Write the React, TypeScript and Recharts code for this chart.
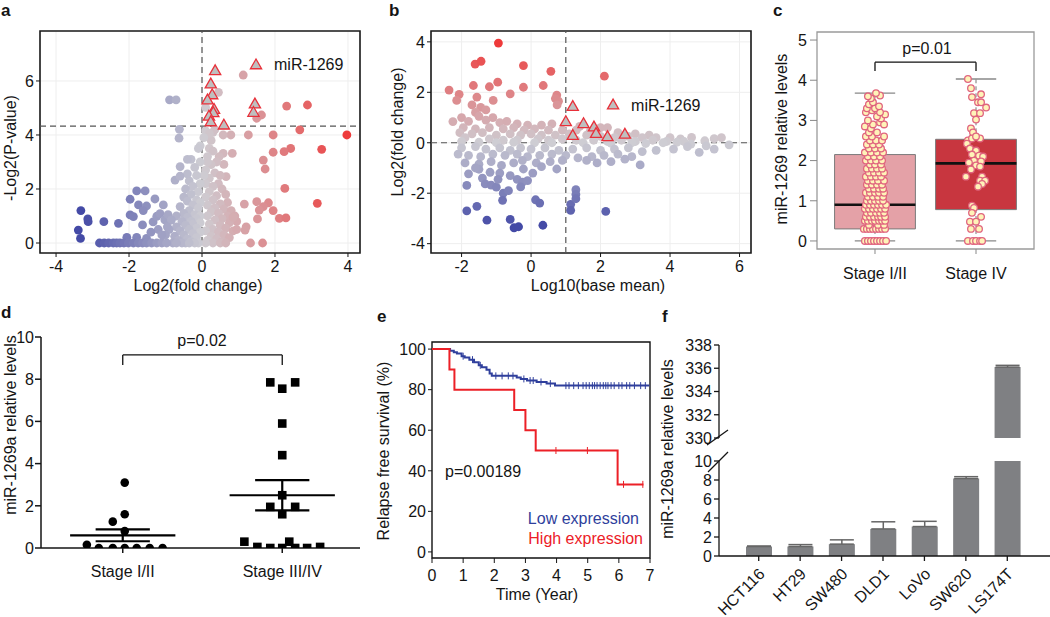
import React from 'react';
import {
  ScatterChart, Scatter, XAxis, YAxis, CartesianGrid, ReferenceLine, ReferenceArea, ReferenceDot,
  ComposedChart, Line, BarChart, Bar, ErrorBar,
} from 'recharts';

const FONT = '"Liberation Sans", Arial, Helvetica, sans-serif';
const INK = '#151515';

// ---------------- panel a: volcano plot (log2 fold change, -log2 p) ----------------
const volcanoPoints: [number, number][] = [
  [1.13,6.22],[0.45,5.58],[2.32,5.07],[2.89,5.11],[1.50,4.62],[1.63,4.74],[2.68,4.19],[3.97,4.0],[1.95,4.0],[1.27,4.0],
  [0.79,4.0],[0.58,4.0],[3.28,3.47],[2.43,3.5],[2.25,3.38],[1.95,3.36],[1.68,3.07],[1.73,2.74],[2.27,2.02],[3.16,1.47],
  [1.50,1.53],[1.82,1.49],[1.68,1.35],[1.57,1.22],[1.95,1.2],[2.12,0.91],[2.30,0.93],[1.52,0.89],[1.16,1.44],[1.21,0.6],
  [1.18,0.48],[1.33,0],[1.66,0],[0.83,3.32],[0.58,3.32],[0.60,2.91],[0.66,2.46],[0.47,3.2],[0.3,4.1],[0.35,4.2],
  [0.25,3.8],[0.2,3.5],[0.3,3.4],[0.15,3.2],[0.4,3.0],[0.25,2.9],[0.1,2.7],[0.35,2.6],[0.5,2.5],[0.2,2.4],
  [0.45,2.2],[0.1,2.2],[0.3,2.1],[0.55,2.0],[0.2,1.9],[0.65,1.8],[0.4,1.75],[0.1,1.7],[0.3,1.6],[0.7,1.5],
  [0.5,1.45],[0.15,1.4],[0.35,1.3],[0.6,1.25],[0.8,1.2],[0.25,1.15],[0.45,1.1],[0.9,1.0],[0.7,1.0],[0.15,1.0],
  [0.55,0.9],[0.35,0.85],[0.95,0.8],[0.75,0.75],[0.2,0.7],[0.5,0.65],[0.65,0.55],[0.3,0.5],[0.85,0.45],[0.1,0.45],
  [0.45,0.4],[0.6,0.3],[0.25,0.25],[0.75,0.2],[0.4,0.15],[0.55,0.05],[0.15,0.1],[0.3,0.0],[0.5,0.0],[0.65,0.0],
  [0.1,0.0],[0.85,0.95],[0.95,0.5],[0.1,4.15],[-0.05,3.6],[0.1,5.02],[0.2,4.05],[0.05,3.9],[0.15,3.0],[0.05,2.5],
  [-0.1,3.5],[-0.3,3.1],[-0.05,3.0],[-0.2,2.8],[-0.15,2.5],[-0.35,2.3],[-0.05,2.2],[-0.25,2.1],[-0.45,2.0],[-0.1,1.9],
  [-0.3,1.8],[-0.5,1.7],[-0.15,1.6],[-0.4,1.55],[-0.05,1.5],[-0.25,1.4],[-0.6,1.35],[-0.1,1.3],[-0.35,1.2],[-0.5,1.1],
  [-0.2,1.05],[-0.05,1.0],[-0.7,1.0],[-0.4,0.95],[-0.15,0.9],[-0.3,0.8],[-0.55,0.8],[-0.85,0.85],[-0.05,0.75],[-0.25,0.7],
  [-0.45,0.65],[-0.7,0.6],[-0.15,0.55],[-0.35,0.5],[-0.6,0.45],[-0.9,0.5],[-0.05,0.4],[-0.25,0.35],[-0.5,0.3],[-0.75,0.25],
  [-1.0,0.3],[-0.15,0.2],[-0.4,0.15],[-0.65,0.1],[-0.3,0.05],[-0.1,0.0],[-0.2,0.0],[-0.45,0.0],[-0.55,0.0],[-0.8,0.0],
  [-0.7,0.0],[-0.35,0.0],[-0.89,5.3],[-0.71,5.3],[-0.62,4.21],[-0.63,3.88],[-0.40,3.1],[-0.60,2.83],[-0.40,2.56],[-0.74,2.33],
  [-0.6,2.48],[-1.79,1.93],[-1.56,1.93],[-1.97,1.62],[-1.29,1.63],[-1.74,1.41],[-1.52,1.37],[-1.06,1.41],[-1.61,1.2],[-3.32,1.2],
  [-3.13,0.89],[-3.12,0.79],[-2.69,0.79],[-2.29,0.73],[-3.39,0.48],[-3.33,0.17],[-1.97,1.04],[-1.88,0.98],[-1.63,0.67],[-1.34,0.78],
  [-1.24,0.99],[-1.15,1.09],[-1.02,0.86],[-0.93,1.05],[-0.84,0.86],[-2.06,0.21],[-1.79,0.21],[-1.52,0.17],[-1.2,0.5],[-1.1,0.3],
  [-0.95,0.6],[-1.4,0.4],[-2.81,0],[-2.68,0],[-2.56,0],[-2.43,0],[-2.34,0],[-2.25,0],[-2.14,0],[-2.02,0],
  [-1.88,0],[-1.75,0],[-1.63,0],[-1.52,0],[-1.38,0],[-1.24,0],[-1.10,0],[-0.97,0],
];
const volcanoHighlight: [number, number][] = [
  [0.36,6.38],[0.24,5.89],[0.28,5.49],[0.15,5.3],[0.33,4.95],[0.31,4.83],[0.19,4.7],[0.24,4.49],[0.60,4.37],[1.45,5.15],[1.41,4.84],
];
const volcanoXTicks = [-4, -2, 0, 2, 4];
const volcanoYTicks = [0, 2, 4, 6];
const volcanoPCut = 4.33;

// ---------------- panel b: MA plot (log10 base mean, log2 fold change) ----------------
const maPoints: [number, number][] = [
  [-0.94,3.95],[-1.61,3.12],[-1.44,3.23],[-0.22,3.06],[0.57,2.83],[2.11,2.64],[-1.66,2.27],[-0.96,2.4],[-0.22,2.2],[0.35,2.27],
  [-2.36,2.09],[-2.07,1.92],[-1.2,2.22],[-0.60,1.94],[0.74,1.89],[0.79,1.65],[-2.14,1.68],[-1.56,1.81],[-1.09,1.68],[-1.7,1.5],
  [-1.45,1.4],[-1.3,1.3],[-1.6,1.2],[0.7,1.75],[0.75,1.5],[-2.0,1.0],[-1.5,1.05],[-1.1,1.0],[-2.25,0.84],[-1.8,0.85],
  [-1.3,0.9],[-0.9,0.8],[-0.7,0.85],[-0.4,0.75],[-0.1,0.7],[0.3,0.7],[0.6,0.75],[1.4,0.65],[2.0,0.6],[2.2,0.6],
  [-1.95,0.6],[-1.6,0.55],[-1.2,0.6],[-0.8,0.55],[-0.5,0.6],[-0.2,0.5],[0.1,0.55],[0.5,0.5],[0.9,0.5],[1.3,0.5],
  [1.7,0.45],[2.5,0.4],[3.0,0.35],[3.4,0.3],[-2.05,0.4],[-1.7,0.35],[-1.4,0.4],[-1.0,0.3],[-0.6,0.35],[-0.3,0.3],
  [0.0,0.35],[0.3,0.3],[0.7,0.3],[1.1,0.35],[1.6,0.3],[2.0,0.25],[2.4,0.2],[2.8,0.25],[3.2,0.2],[3.6,0.2],
  [4.0,0.2],[4.3,0.15],[4.62,0.21],[-1.9,0.2],[-1.2,0.15],[-0.8,0.1],[-0.4,0.1],[0.2,0.15],[0.5,0.1],[0.9,0.15],
  [1.3,0.1],[1.8,0.1],[2.2,0.05],[2.6,0.1],[3.0,0.05],[3.5,0.1],[3.9,0.05],[4.4,0.05],[5.0,0.08],[5.27,0.16],
  [5.48,0.2],[-2.0,0.05],[-1.5,0.02],[-1.0,0.0],[-0.5,0.02],[0.1,0.0],[0.6,0.0],[1.5,0.0],[2.3,-0.02],[2.9,0.0],
  [3.3,-0.03],[3.8,0.0],[4.2,0.02],[4.6,-0.05],[5.04,-0.12],[5.7,-0.08],[4.84,-0.38],[5.27,-0.25],
  [-2.0,-0.2],[-1.6,-0.15],[-1.3,-0.25],[-0.9,-0.2],[-0.6,-0.3],[-0.3,-0.2],[0.0,-0.25],[0.4,-0.2],[0.8,-0.3],[1.2,-0.25],
  [1.6,-0.2],[2.0,-0.3],[2.4,-0.25],[2.8,-0.2],[3.2,-0.35],[3.6,-0.3],[4.1,-0.25],[4.5,-0.15],[-2.1,-0.45],[-1.8,-0.5],
  [-1.45,-0.55],[-1.1,-0.45],[-0.75,-0.5],[-0.4,-0.45],[-0.1,-0.55],[0.25,-0.5],[0.6,-0.45],[1.0,-0.5],[1.35,-0.6],[1.75,-0.55],
  [2.1,-0.5],[2.5,-0.45],[2.9,-0.55],[3.14,-0.88],[-1.9,-0.8],[-1.5,-0.85],[-1.15,-0.75],[-0.85,-0.9],[-0.5,-0.8],[-0.25,-0.7],
  [0.15,-0.8],[0.55,-0.75],[0.74,-1.04],[-0.22,-1.04],[-1.8,-1.23],[-1.18,-1.17],[-1.5,-1.05],[-0.9,-1.2],[-0.6,-1.3],[-1.4,-1.4],
  [-0.4,-1.45],[-0.25,-1.56],[-0.1,-1.5],[-1.85,-1.69],[-1.32,-1.63],[-1.15,-1.68],[-1.0,-1.76],[-0.8,-2.0],[-0.65,-1.9],[-0.82,-2.28],
  [-0.3,-1.75],[0.13,-2.26],[0.25,-2.39],[1.14,-2.44],[1.14,-2.68],[1.29,-1.86],[1.29,-2.05],[1.29,-2.22],[2.15,-2.72],[-1.85,-2.7],
  [-1.56,-2.52],[-1.27,-3.07],[-0.6,-3.04],[-0.49,-3.37],[-0.36,-3.33],[0.34,-3.27],[-0.95,-1.45],[-1.6,-1.0],[0.05,-1.2],[0.3,-0.95],
  [1.6,-0.7],[1.9,-0.8],[2.3,-0.75],[2.7,-0.65],[0.9,-0.7],
];
const maHighlight: [number, number][] = [
  [1.2,1.44],[1.0,0.84],[1.51,0.76],[1.81,0.63],[1.2,0.29],[1.87,0.37],[2.2,0.24],[2.7,0.34],
];
const maXTicks = [-2, 0, 2, 4, 6];
const maYTicks = [-4, -2, 0, 2, 4];
const maMeanCut = 1;

// ---------------- panel c: box plot with jittered points ----------------
const cCategories = ['Stage I/II', 'Stage IV'];
// [jitter offset from the category, level]
const cStage12: [number, number][] = [
  [-0.10,0],[-0.07,0],[-0.04,0],[-0.01,0],[0.02,0],[0.05,0],[0.08,0],[0.11,0],
  [-0.11,0.3],[-0.08,0.3],[-0.05,0.3],[-0.02,0.3],[0.01,0.3],[0.04,0.3],[0.07,0.3],[0.10,0.3],
  [-0.06,0.4],[0.03,0.4],[0.09,0.4],
  [-0.10,0.5],[-0.07,0.5],[-0.03,0.5],[0.0,0.5],[0.04,0.5],[0.07,0.5],[0.10,0.5],
  [-0.09,0.6],[-0.05,0.6],[-0.01,0.6],[0.03,0.6],[0.06,0.6],[0.10,0.6],
  [-0.08,0.7],[-0.04,0.7],[0.01,0.7],[0.05,0.7],[0.09,0.7],
  [-0.10,0.8],[-0.06,0.8],[-0.02,0.8],[0.02,0.8],[0.06,0.8],[0.10,0.8],
  [-0.09,0.9],[-0.05,0.9],[-0.01,0.9],[0.03,0.9],[0.07,0.9],[0.11,0.9],
  [-0.08,1.0],[-0.04,1.0],[0.0,1.0],[0.04,1.0],[0.08,1.0],
  [-0.07,1.1],[-0.02,1.1],[0.03,1.1],[0.08,1.1],
  [-0.09,1.2],[-0.05,1.2],[0.0,1.2],[0.04,1.2],[0.09,1.2],
  [-0.06,1.3],[-0.01,1.3],[0.04,1.3],[0.08,1.3],
  [-0.08,1.4],[-0.03,1.4],[0.02,1.4],[0.07,1.4],
  [-0.07,1.5],[-0.02,1.5],[0.03,1.5],[0.09,1.5],
  [-0.09,1.6],[-0.04,1.6],[0.01,1.6],[0.06,1.6],
  [-0.06,1.7],[-0.01,1.7],[0.04,1.7],[0.09,1.7],
  [-0.08,1.8],[-0.03,1.8],[0.02,1.8],[0.07,1.8],
  [-0.05,1.9],[0.0,1.9],[0.06,1.9],
  [-0.09,2.0],[-0.04,2.0],[0.01,2.0],[0.07,2.0],
  [-0.07,2.1],[-0.01,2.1],[0.05,2.1],
  [-0.10,2.2],[-0.04,2.2],[0.02,2.2],[0.08,2.2],
  [-0.06,2.3],[0.0,2.3],[0.06,2.3],
  [-0.08,2.4],[-0.02,2.4],[0.04,2.4],
  [-0.05,2.5],[0.01,2.5],[0.07,2.5],
  [-0.09,2.6],[-0.03,2.6],[0.09,2.6],
  [-0.06,2.7],[0.02,2.7],
  [-0.10,2.85],[-0.04,2.8],
  [0.05,2.95],[0.09,2.9],[-0.02,2.9],
  [-0.07,3.0],[0.06,3.05],
  [0.02,3.1],[0.10,3.15],
  [-0.09,3.2],[-0.03,3.25],[0.05,3.2],
  [-0.08,3.3],[0.0,3.3],[0.04,3.35],
  [-0.06,3.4],[-0.02,3.45],
  [-0.04,3.55],
  [-0.07,3.6],[0.05,3.62],
  [0.01,3.68],
];
const cStage4: [number, number][] = [
  [-0.08,4.03],[-0.05,3.8],[0.05,3.65],[-0.04,3.58],[0.02,3.45],[0.05,3.45],[0.1,3.32],[-0.02,3.18],[0.04,3.18],[0.0,3.02],
  [-0.05,2.8],[-0.03,2.7],[-0.08,2.5],[-0.04,2.55],[0.04,2.55],[0.0,2.6],[-0.09,2.42],[-0.06,2.3],[0.0,2.25],[-0.04,2.15],
  [0.03,2.12],[0.07,2.1],[-0.02,2.0],[0.05,1.98],[-0.07,1.95],[0.0,1.88],[0.04,1.85],[-0.05,1.78],[-0.1,1.6],[0.06,1.6],
  [0.04,1.5],[0.09,1.5],[0.06,1.42],[0.02,1.35],[-0.04,0.88],[-0.02,0.82],[-0.04,0.7],[0.05,0.6],[-0.06,0.48],[0.0,0.48],
  [-0.05,0.3],[0.03,0.3],[-0.08,0],[-0.03,0],[0.0,0],[0.04,0],[0.06,0],
];
// min, q1, median, q3, max
const cBoxStats = [
  [0, 0.3, 0.9, 2.15, 3.68],
  [0, 0.78, 1.93, 2.53, 4.03],
];
const cBoxColors = ['#e4a1a7', '#c8363f'];
const cYTicks = [0, 1, 2, 3, 4, 5];

// ---------------- panel d: dot plot with mean +/- SEM ----------------
const dCategories = ['Stage I/II', 'Stage III/IV'];
const dStage12: [number, number][] = [
  [-0.225,0.15],[-0.15,0],[-0.0625,0],[0.0125,0],[0.0875,0],[0.169,0],[0.25,0],[-0.0625,1.25],[0.0125,1.6],[0.0125,3.1],[0.0125,0.8],
];
const dStage34: [number, number][] = [
  [-0.2375,0.3],[-0.156,0.05],[-0.075,0],[0,0],[0.044,0.3],[0.081,0],[0.156,0],[0.2375,0.05],
  [-0.075,7.85],[0,7.55],[0.081,7.85],[0,5.9],[0,4.4],[0,2.5],[-0.075,1.95],[0.081,1.95],[0,1.6],
];
const dMeans = [0.6, 2.5];
const dSems = [0.28, 0.72];
const dYTicks = [0, 2, 4, 6, 8, 10];

// ---------------- panel e: Kaplan-Meier ----------------
const lowTimes = [0, 0.58, 0.7, 0.8, 0.95, 1.05, 1.2, 1.35, 1.5, 1.6, 1.75, 1.85, 1.92, 2.72, 2.85, 3.05, 3.36, 3.68, 3.95, 6.98];
const lowSurv = [100, 99.2, 98.5, 97.8, 96.5, 95.8, 94.8, 93.5, 92, 91, 89.8, 88, 86.8, 86, 85.3, 84.5, 83.8, 83, 82, 82];
const lowCensor: [number, number][] = [
  [1.0,96.5],[1.3,94.8],[1.55,92],[2.05,86.8],[2.25,86.8],[2.45,86.8],[2.6,86.8],[2.95,85.3],[3.15,84.5],[3.25,84.5],
  [3.5,83.8],[3.8,83],[4.3,82],[4.4,82],[4.55,82],[4.7,82],[4.85,82],[4.95,82],[5.05,82],[5.15,82],[5.22,82],[5.3,82],
  [5.4,82],[5.5,82],[5.58,82],[5.65,82],[5.75,82],[5.85,82],[6.0,82],[6.1,82],[6.25,82],[6.35,82],[6.5,82],[6.7,82],[6.85,82],
];
const highTimes = [0, 0.56, 0.72, 2.64, 3.0, 3.33, 5.96, 6.79];
const highSurv = [100, 90, 80, 70, 60, 50, 33.3, 33.3];
const highCensor: [number, number][] = [[3.98,50],[4.99,50],[6.15,33.3],[6.77,33.3]];
const eXTicks = [0, 1, 2, 3, 4, 5, 6, 7];
const eYTicks = [0, 20, 40, 60, 80, 100];
const LOW_COLOR = '#2f3f9c';
const HIGH_COLOR = '#ec2027';

// ---------------- panel f: bars with broken axis ----------------
const fCellLines = ['HCT116', 'HT29', 'SW480', 'DLD1', 'LoVo', 'SW620', 'LS174T'];
const fMeans = [1.0, 1.0, 1.25, 2.85, 3.1, 8.15, 336.1];
const fErrors = [0.05, 0.2, 0.45, 0.75, 0.55, 0.2, 0.15];
const fLowTicks = [0, 2, 4, 6, 8, 10];
const fHighTicks = [330, 332, 334, 336, 338];

// ---------------- helpers ----------------
const mix = (a: number[], b: number[], t: number) =>
  `rgb(${a.map((v, i) => Math.round(v + (b[i] - v) * t)).join(',')})`;
const MID = [206, 205, 211], LO = [68, 74, 166], HI = [238, 58, 58];
const foldColor = (v: number, hiMax: number) =>
  v < 0 ? mix(MID, LO, Math.min(1, -v / 3.3)) : mix(MID, HI, Math.min(1, v / hiMax));

const TS = 16;

// custom tick renderers so the font size is applied exactly
const XTick = (fmt?: (v: any) => string) => (p: any) => (
  <text x={p.x} y={p.y} dy="0.72em" textAnchor="middle" fontSize={TS} fill={INK} fontFamily={FONT}>
    {fmt ? fmt(p.payload.value) : p.payload.value}
  </text>
);
const YTick = (p: any) => (
  <text x={p.x} y={p.y} dy="0.36em" textAnchor="end" fontSize={TS} fill={INK} fontFamily={FONT}>
    {p.payload.value}
  </text>
);

const Triangle = (p: any) => {
  const { cx, cy } = p;
  if (cx == null || cy == null) return <g />;
  return (
    <polygon
      points={`${cx},${cy - 5.8} ${cx - 5.6},${cy + 4} ${cx + 5.6},${cy + 4}`}
      fill="#bfbfbf" stroke="#e8303a" strokeWidth={1.3}
    />
  );
};

const makeFoldDot = (key: 'x' | 'y', hiMax: number) => (p: any) => (
  <circle cx={p.cx} cy={p.cy} r={4.4} fill={foldColor(p.payload[key], hiMax)} />
);

// ---------------- panels ----------------
const A_X: [number, number] = [-4.44, 4.33];
const A_Y: [number, number] = [-0.37, 7.85];

function PanelA() {
  const pts = volcanoPoints.map(([x, y]) => ({ x, y }));
  const tri = volcanoHighlight.map(([x, y]) => ({ x, y }));
  return (
    <ScatterChart width={365} height={300} margin={{ top: 31, right: 5, bottom: 0, left: 0 }}>
      <CartesianGrid stroke="#eeeeee" />
      <XAxis type="number" dataKey="x" domain={A_X} ticks={volcanoXTicks} allowDataOverflow height={47} interval={0}
        axisLine={false} tickSize={4} tickMargin={3} tickLine={{ stroke: INK }} tick={XTick()} />
      <YAxis type="number" dataKey="y" domain={A_Y} ticks={volcanoYTicks} allowDataOverflow width={40} interval={0}
        axisLine={false} tickSize={4} tickMargin={2} tickLine={{ stroke: INK }} tick={YTick} />
      <ReferenceArea x1={A_X[0]} x2={A_X[1]} y1={A_Y[0]} y2={A_Y[1]} fill="none" fillOpacity={0} stroke="#1a1a1a" strokeWidth={1.6} />
      <ReferenceLine x={0} stroke="#555" strokeDasharray="6 4" strokeWidth={1.2} />
      <ReferenceLine y={volcanoPCut} stroke="#555" strokeDasharray="6 4" strokeWidth={1.2} />
      <Scatter data={pts} shape={makeFoldDot('x', 4)} isAnimationActive={false} />
      <Scatter data={tri} shape={Triangle} isAnimationActive={false} />
      <ReferenceDot x={1.48} y={6.6} shape={Triangle}
        label={{ value: 'miR-1269', position: 'right', offset: 8, fill: INK, fontSize: 16, fontFamily: FONT }} />
    </ScatterChart>
  );
}

const B_X: [number, number] = [-2.88, 6.33];
const B_Y: [number, number] = [-4.37, 4.43];

function PanelB() {
  const pts = maPoints.map(([x, y]) => ({ x, y }));
  const tri = maHighlight.map(([x, y]) => ({ x, y }));
  return (
    <ScatterChart width={365} height={300} margin={{ top: 31, right: 5, bottom: 0, left: 0 }}>
      <CartesianGrid stroke="#eeeeee" />
      <XAxis type="number" dataKey="x" domain={B_X} ticks={maXTicks} allowDataOverflow height={47} interval={0}
        axisLine={false} tickSize={4} tickMargin={3} tickLine={{ stroke: INK }} tick={XTick()} />
      <YAxis type="number" dataKey="y" domain={B_Y} ticks={maYTicks} allowDataOverflow width={40} interval={0}
        axisLine={false} tickSize={4} tickMargin={2} tickLine={{ stroke: INK }} tick={YTick} />
      <ReferenceArea x1={B_X[0]} x2={B_X[1]} y1={B_Y[0]} y2={B_Y[1]} fill="none" fillOpacity={0} stroke="#1a1a1a" strokeWidth={1.6} />
      <ReferenceLine x={maMeanCut} stroke="#555" strokeDasharray="6 4" strokeWidth={1.2} />
      <ReferenceLine y={0} stroke="#555" strokeDasharray="6 4" strokeWidth={1.2} />
      <Scatter data={pts} shape={makeFoldDot('y', 3.9)} isAnimationActive={false} />
      <Scatter data={tri} shape={Triangle} isAnimationActive={false} />
      <ReferenceDot x={2.36} y={1.5} shape={Triangle}
        label={{ value: 'miR-1269', position: 'right', offset: 8, fill: INK, fontSize: 16, fontFamily: FONT }} />
    </ScatterChart>
  );
}

const C_X: [number, number] = [0.426, 2.574];
const C_Y: [number, number] = [-0.2, 5.2];

const JitterDot = (p: any) => (
  <circle cx={p.cx} cy={p.cy} r={3.3} fill="#fff3b8" stroke="#e0657f" strokeWidth={1.3} />
);

function PanelC() {
  const groups = [cStage12, cStage4];
  return (
    <ScatterChart width={273} height={300} margin={{ top: 32, right: 16, bottom: 0, left: 0 }}>
      <XAxis type="number" dataKey="x" domain={C_X} ticks={[1, 2]} allowDataOverflow height={51} interval={0}
        axisLine={false} tickSize={5} tickMargin={13}
        tickLine={{ stroke: '#888' }} tick={XTick((v: number) => cCategories[v - 1])} />
      <YAxis type="number" dataKey="y" domain={C_Y} ticks={cYTicks} allowDataOverflow width={40} interval={0}
        axisLine={false} tickSize={7} tickMargin={3} tickLine={{ stroke: '#888' }} tick={YTick} />
      <ReferenceArea x1={C_X[0]} x2={C_X[1]} y1={C_Y[0]} y2={C_Y[1]} fill="none" fillOpacity={0} stroke="#9a9a9a" strokeWidth={1.3} />
      {cBoxStats.map(([mn, q1, md, q3, mx], i) => {
        const c = i + 1;
        return (
          <React.Fragment key={i}>
            <ReferenceLine segment={[{ x: c, y: q3 }, { x: c, y: mx }]} stroke="#777" strokeDasharray="4 3" />
            <ReferenceLine segment={[{ x: c, y: mn }, { x: c, y: q1 }]} stroke="#777" strokeDasharray="4 3" />
            <ReferenceLine segment={[{ x: c - 0.2, y: mx }, { x: c + 0.2, y: mx }]} stroke="#888" strokeWidth={1.3} />
            <ReferenceLine segment={[{ x: c - 0.2, y: mn }, { x: c + 0.2, y: mn }]} stroke="#888" strokeWidth={1.3} />
            <ReferenceArea x1={c - 0.4} x2={c + 0.4} y1={q1} y2={q3} fill={cBoxColors[i]} fillOpacity={1} stroke="#7a7a7a" strokeWidth={1} />
            <ReferenceLine segment={[{ x: c - 0.4, y: md }, { x: c + 0.4, y: md }]} stroke="#111" strokeWidth={2.6} />
          </React.Fragment>
        );
      })}
      {groups.map((g, i) => (
        <Scatter key={i} data={g.map(([o, v]) => ({ x: i + 1 + o, y: v }))} shape={JitterDot} isAnimationActive={false} />
      ))}
      <ReferenceLine segment={[{ x: 1, y: 4.45 }, { x: 2, y: 4.45 }]} stroke="#111" strokeWidth={1.3} />
      <ReferenceLine segment={[{ x: 1, y: 4.45 }, { x: 1, y: 4.23 }]} stroke="#111" strokeWidth={1.3} />
      <ReferenceLine segment={[{ x: 2, y: 4.45 }, { x: 2, y: 4.23 }]} stroke="#111" strokeWidth={1.3} />
    </ScatterChart>
  );
}

const D_X: [number, number] = [0.4875, 2.4875];

const BlackCircle = (p: any) => <circle cx={p.cx} cy={p.cy} r={4.3} fill="#000" />;
const BlackSquare = (p: any) => <rect x={p.cx - 4.3} y={p.cy - 4.3} width={8.6} height={8.6} fill="#000" />;

function PanelD() {
  const groups = [dStage12, dStage34];
  return (
    <ScatterChart width={365} height={317} margin={{ top: 37, right: 5, bottom: 0, left: 1 }}>
      <XAxis type="number" dataKey="x" domain={D_X} ticks={[1, 2]} allowDataOverflow height={69} interval={0}
        axisLine={{ stroke: INK, strokeWidth: 1.5 }}
        tickSize={5} tickMargin={12} tickLine={{ stroke: INK, strokeWidth: 1.5 }} tick={XTick((v: number) => dCategories[v - 1])} />
      <YAxis type="number" dataKey="y" domain={[0, 10]} ticks={dYTicks} allowDataOverflow width={40} interval={0}
        axisLine={{ stroke: INK, strokeWidth: 1.5 }} tickSize={6} tickMargin={1}
        tickLine={{ stroke: INK, strokeWidth: 1.5 }} tick={YTick} />
      <Scatter data={groups[0].map(([o, v]) => ({ x: 1 + o, y: v }))} shape={BlackCircle} isAnimationActive={false} />
      <Scatter data={groups[1].map(([o, v]) => ({ x: 2 + o, y: v }))} shape={BlackSquare} isAnimationActive={false} />
      {dMeans.map((m, i) => {
        const c = i + 1, s = dSems[i];
        return (
          <React.Fragment key={i}>
            <ReferenceLine segment={[{ x: c - 0.33, y: m }, { x: c + 0.33, y: m }]} stroke="#000" strokeWidth={2.2} />
            <ReferenceLine segment={[{ x: c - 0.17, y: m + s }, { x: c + 0.17, y: m + s }]} stroke="#000" strokeWidth={2.2} />
            <ReferenceLine segment={[{ x: c - 0.17, y: m - s }, { x: c + 0.17, y: m - s }]} stroke="#000" strokeWidth={2.2} />
            <ReferenceLine segment={[{ x: c, y: m - s }, { x: c, y: m + s }]} stroke="#000" strokeWidth={2.2} />
          </React.Fragment>
        );
      })}
      <ReferenceLine segment={[{ x: 1, y: 9.15 }, { x: 2, y: 9.15 }]} stroke="#111" strokeWidth={1.3} />
      <ReferenceLine segment={[{ x: 1, y: 9.15 }, { x: 1, y: 8.67 }]} stroke="#111" strokeWidth={1.3} />
      <ReferenceLine segment={[{ x: 2, y: 9.15 }, { x: 2, y: 8.67 }]} stroke="#111" strokeWidth={1.3} />
    </ScatterChart>
  );
}

const E_Y: [number, number] = [-3, 103.5];

const censorShape = (color: string) => (p: any) => (
  <line x1={p.cx} x2={p.cx} y1={p.cy - 3.5} y2={p.cy + 3.5} stroke={color} strokeWidth={1} />
);

function PanelE() {
  const low = lowTimes.map((t, i) => ({ t, s: lowSurv[i] }));
  const high = highTimes.map((t, i) => ({ t, s: highSurv[i] }));
  return (
    <ComposedChart width={263} height={317} margin={{ top: 42, right: 5, bottom: 0, left: 0 }}>
      <XAxis type="number" dataKey="t" domain={[0, 7]} ticks={eXTicks} allowDataOverflow height={59} interval={0}
        axisLine={false} tickSize={5} tickMargin={6} tickLine={{ stroke: INK }} tick={XTick()} />
      <YAxis type="number" dataKey="s" domain={E_Y} ticks={eYTicks} allowDataOverflow width={40} interval={0}
        axisLine={false} tickSize={4} tickMargin={2} tickLine={{ stroke: INK }} tick={YTick} />
      <ReferenceArea x1={0} x2={7} y1={E_Y[0]} y2={E_Y[1]} fill="none" fillOpacity={0} stroke="#111" strokeWidth={1.4} />
      <Line data={low} dataKey="s" type="stepAfter" stroke={LOW_COLOR} strokeWidth={2} dot={false} isAnimationActive={false} />
      <Line data={high} dataKey="s" type="stepAfter" stroke={HIGH_COLOR} strokeWidth={2} dot={false} isAnimationActive={false} />
      <Scatter data={lowCensor.map(([t, s]) => ({ t, s }))} dataKey="s" shape={censorShape(LOW_COLOR)} isAnimationActive={false} />
      <Scatter data={highCensor.map(([t, s]) => ({ t, s }))} dataKey="s" shape={censorShape(HIGH_COLOR)} isAnimationActive={false} />
    </ComposedChart>
  );
}

const FTick = (props: any) => {
  const { x, y, payload } = props;
  const ax = x + 7, ay = y + 12;
  return (
    <text x={ax} y={ay} transform={`rotate(-45 ${ax} ${ay})`} textAnchor="end" fontSize={16} fill={INK} fontFamily={FONT}>
      {payload.value}
    </text>
  );
};

const BAR_FILL = '#7f8083';
const ERR_STROKE = '#666';

function PanelF() {
  const upper = fCellLines.map((name, i) => ({
    name,
    v: fMeans[i] >= fHighTicks[0] ? fMeans[i] : null,
    e: fMeans[i] >= fHighTicks[0] ? [0, fErrors[i]] : null,
  }));
  const lower = fCellLines.map((name, i) => ({
    name,
    v: fMeans[i],
    e: fMeans[i] + fErrors[i] <= fLowTicks[fLowTicks.length - 1] ? [0, fErrors[i]] : null,
  }));
  return (
    <>
      <div style={{ position: 'absolute', left: 679, top: 330 }}>
        <BarChart width={371} height={122} data={upper} margin={{ top: 15, right: 0, bottom: 14, left: 0 }}>
          <XAxis dataKey="name" hide padding={{ left: 19, right: 22 }} />
          <YAxis domain={[330, 338]} ticks={fHighTicks} allowDataOverflow width={40} interval={0}
            axisLine={{ stroke: INK, strokeWidth: 1.3 }} tickSize={5} tickMargin={2}
            tickLine={{ stroke: INK, strokeWidth: 1.3 }} tick={YTick} />
          <Bar dataKey="v" fill={BAR_FILL} barSize={26} isAnimationActive={false}>
            <ErrorBar dataKey="e" width={12} stroke={ERR_STROKE} strokeWidth={1.5} direction="y" />
          </Bar>
        </BarChart>
      </div>
      <div style={{ position: 'absolute', left: 679, top: 446 }}>
        <BarChart width={371} height={171} data={lower} margin={{ top: 15, right: 0, bottom: 0, left: 0 }}>
          <XAxis dataKey="name" height={61} padding={{ left: 19, right: 22 }} interval={0}
            axisLine={{ stroke: INK, strokeWidth: 1.5 }} tickSize={5} tickMargin={2}
            tickLine={{ stroke: INK, strokeWidth: 1.3 }} tick={<FTick />} />
          <YAxis domain={[0, 10]} ticks={fLowTicks} allowDataOverflow width={40} interval={0}
            axisLine={{ stroke: INK, strokeWidth: 1.3 }} tickSize={5} tickMargin={2}
            tickLine={{ stroke: INK, strokeWidth: 1.3 }} tick={YTick} />
          <Bar dataKey="v" fill={BAR_FILL} barSize={26} isAnimationActive={false}>
            <ErrorBar dataKey="e" width={12} stroke={ERR_STROKE} strokeWidth={1.5} direction="y" />
          </Bar>
        </BarChart>
      </div>
    </>
  );
}

function Overlay() {
  const rot = (x: number, y: number) => `rotate(-90 ${x} ${y})`;
  return (
    <svg width={1050} height={617} style={{ position: 'absolute', left: 0, top: 0, pointerEvents: 'none' }}
      fontFamily={FONT} fill={INK}>
      <g fontWeight="bold" fontSize={17}>
        <text x={1} y={16}>a</text>
        <text x={389} y={16}>b</text>
        <text x={773} y={16}>c</text>
        <text x={1} y={318}>d</text>
        <text x={377} y={322}>e</text>
        <text x={662} y={322}>f</text>
      </g>
      <g fontSize={16}>
        <text x={198} y={291} textAnchor="middle">Log2(fold change)</text>
        <text x={16} y={148} textAnchor="middle" transform={rot(16, 148)}>-Log2(P-value)</text>
        <text x={598} y={291} textAnchor="middle">Log10(base mean)</text>
        <text x={403} y={132} textAnchor="middle" transform={rot(403, 132)}>Log2(fold change)</text>
        <text x={787} y={139} textAnchor="middle" transform={rot(787, 139)}>miR-1269 relative levels</text>
        <text x={927} y={54} textAnchor="middle">p=0.01</text>
        <text x={16} y={425} textAnchor="middle" transform={rot(16, 425)}>miR-1269a relative levels</text>
        <text x={202} y={346} textAnchor="middle">p=0.02</text>
        <text x={537} y={600} textAnchor="middle">Time (Year)</text>
        <text x={389} y={451} textAnchor="middle" transform={rot(389, 451)}>Relapse free survival (%)</text>
        <text x={445} y={477}>p=0.00189</text>
        <text x={639} y={524} textAnchor="end" fill={LOW_COLOR}>Low expression</text>
        <text x={643} y={544} textAnchor="end" fill={HIGH_COLOR}>High expression</text>
        <text x={673} y={449} textAnchor="middle" transform={rot(673, 449)}>miR-1269a relative levels</text>
      </g>
      <g stroke={INK} strokeWidth={1.3}>
        <line x1={707} y1={445} x2={728} y2={430} />
        <line x1={708} y1={472} x2={728} y2={452} />
      </g>
    </svg>
  );
}

export default function App() {
  return (
    <div style={{ position: 'absolute', left: 0, top: 0, width: 1050, height: 617, background: '#fff', fontFamily: FONT, overflow: 'hidden' }}>
      <div style={{ position: 'absolute', left: 0, top: 0 }}><PanelA /></div>
      <div style={{ position: 'absolute', left: 391, top: 0 }}><PanelB /></div>
      <div style={{ position: 'absolute', left: 777, top: 0 }}><PanelC /></div>
      <div style={{ position: 'absolute', left: 0, top: 300 }}><PanelD /></div>
      <div style={{ position: 'absolute', left: 392, top: 300 }}><PanelE /></div>
      <PanelF />
      <Overlay />
    </div>
  );
}
